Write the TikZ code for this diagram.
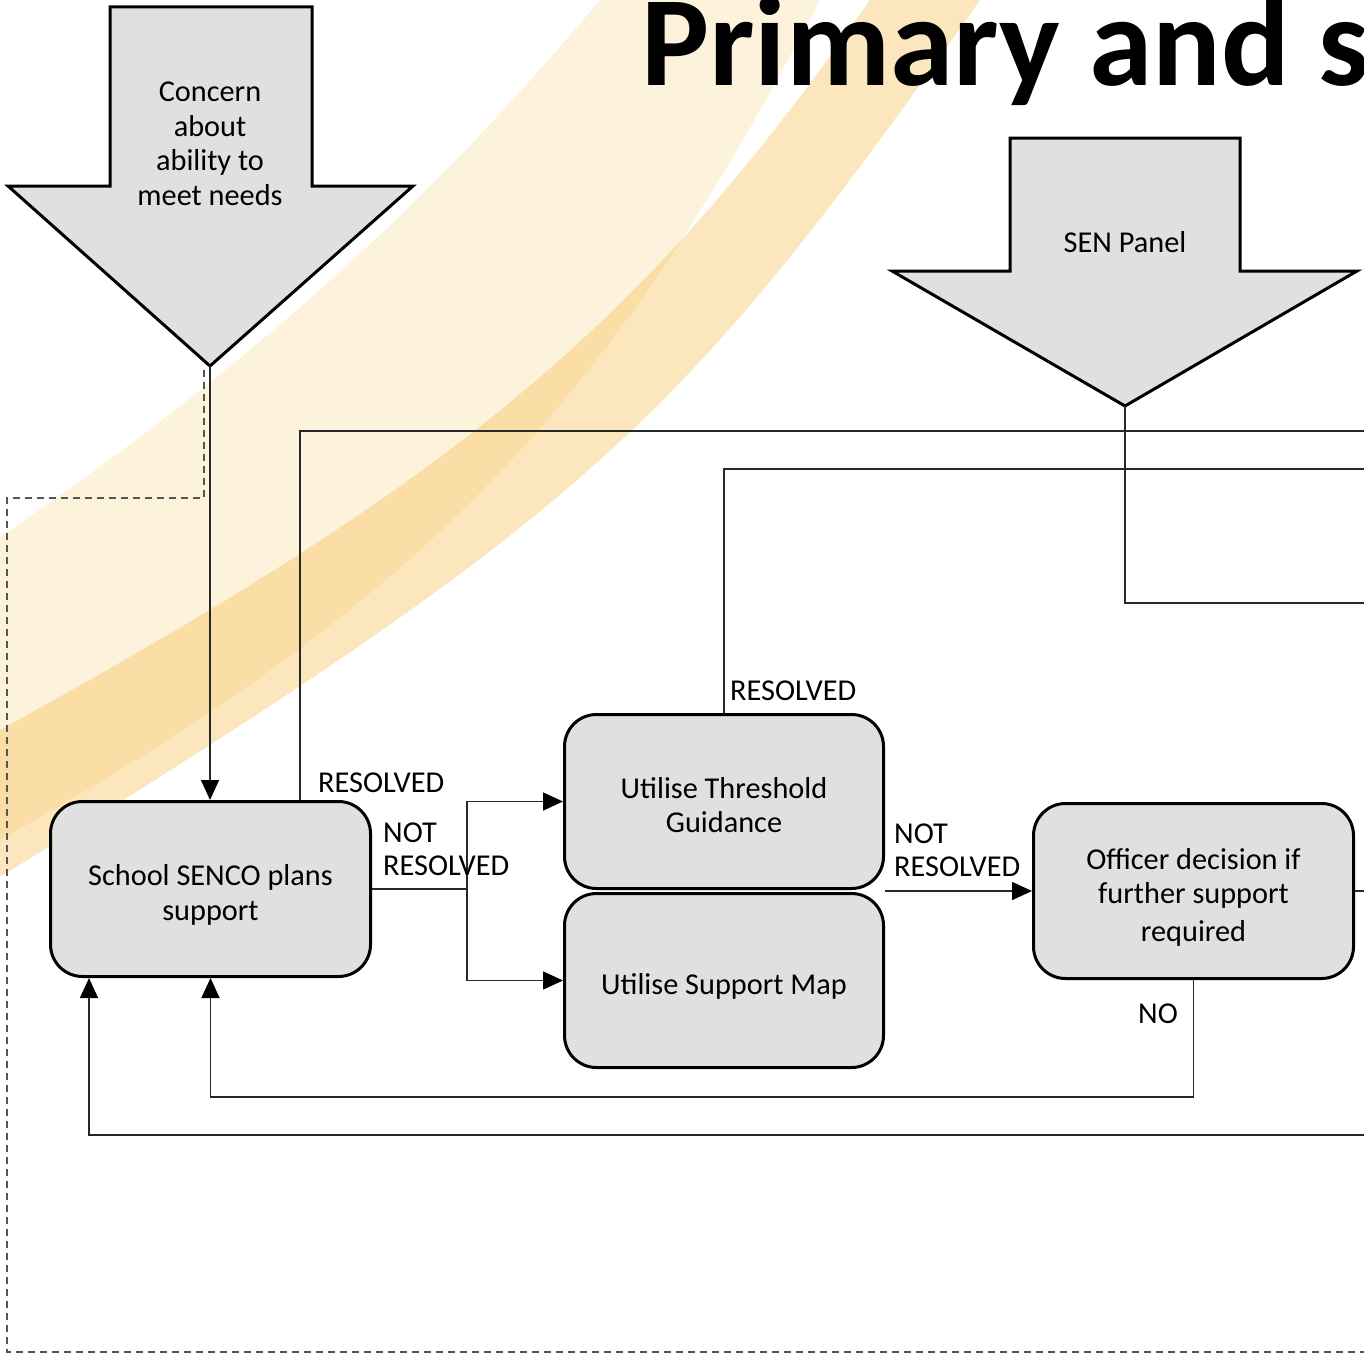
\documentclass[tikz,border=0pt]{standalone}
\usepackage{fontspec}
\setmainfont{Carlito}
\usetikzlibrary{arrows.meta,calc}
\definecolor{boxgray}{RGB}{224,224,224}
\definecolor{bandorange}{RGB}{245,178,50}
\definecolor{lineg}{RGB}{40,40,40}
\definecolor{dashg}{RGB}{85,85,85}
\newcommand{\toppad}{\rule{0pt}{33pt}}
\begin{document}
\begin{tikzpicture}[x=1pt,y=-1pt,
  flowbox/.style={draw=black, line width=3pt, fill=boxgray, rounded corners=32pt,
    minimum width=320pt, minimum height=175pt, align=center, inner sep=0pt,
    font=\fontsize{30.3}{34.5}\selectfont},
  bigarrow/.style={draw=black, line width=3pt, fill=boxgray, line join=miter},
  arrowtext/.style={align=center, inner sep=0pt, font=\fontsize{30.3}{34.5}\selectfont},
  conn/.style={draw=lineg, line width=1.5pt},
  arr/.style={conn, -{Triangle[length=20pt,width=18pt,color=black,fill=black]}},
  lbl/.style={font=\fontsize{30.3}{33}\selectfont, align=left, inner sep=0pt},
  dashedline/.style={draw=dashg, line width=2pt, dash pattern=on 7pt off 5pt}
]
\useasboundingbox (0,0) rectangle (1364,1354);

% decorative bands
\begin{scope}
\clip (0,0) rectangle (1364,1354);
\fill[bandorange, opacity=0.17]
  (640,-50) -- (600,0) .. controls (490,130) and (320,320) .. (0,537) -- (-80,590)
  -- (-80,885) -- (0,840) .. controls (450,588) and (620,380) .. (820,0) -- (860,-80) -- cycle;
\fill[bandorange, opacity=0.32]
  (920,-70) -- (870,0) .. controls (640,331) and (450,482) .. (0,730) -- (-80,774)
  -- (-80,927) -- (0,877) .. controls (591,511) and (682,423) .. (980,0) -- (1030,-71) -- cycle;
\end{scope}

% title
\node[anchor=base west, inner sep=0pt, font=\fontsize{128}{128}\selectfont\bfseries] (title) at (641,85) {Primary and s};

% right edge reference
\coordinate (E) at (1372,0);

% big arrows
\draw[bigarrow] (110,7) -- (312,7) -- (312,186) -- (413,186) -- (210,366) -- (8,186) -- (110,186) -- cycle;
\coordinate (a1tip) at (210,366);
\node[arrowtext] (concern) at (210,144) {Concern\\about\\ability to\\meet needs};

\draw[bigarrow] (1010,138) -- (1240,138) -- (1240,271) -- (1357,271) -- (1125,406) -- (892,271) -- (1010,271) -- cycle;
\coordinate (a2tip) at (1125,406);
\node[arrowtext] (panel) at (1125,242) {SEN Panel};

% boxes
\node[flowbox] (senco) at (210.5,889) {\toppad School SENCO plans\\support};
\node[flowbox, minimum height=174pt, minimum width=319pt] (thresh) at (724,801.5) {\rule{0pt}{28pt}Utilise Threshold\\Guidance};
\node[flowbox, minimum height=174pt, minimum width=319pt] (supmap) at (724,980.5) {\toppad Utilise Support Map};
\node[flowbox] (officer) at (1193.5,891) {\toppad Officer decision if\\further support\\[3pt]required};

% dashed route
\coordinate (d0) at (204,370);
\coordinate (d1) at (204,498);
\coordinate (d2) at (7,498);
\coordinate (d3) at (7,1352);
\draw[dashedline] (d0) -- (d1) -- (d2) -- (d3) -- (d3 -| E);

% connectors
\draw[arr] (a1tip) -- (a1tip |- senco.north);

\coordinate (r1) at (300,431);
\draw[conn] (r1 |- senco.north) -- (r1) -- (r1 -| E);
\node[lbl, anchor=west] (res1) at (318,783) {RESOLVED};

\coordinate (sx) at (467,0);
\draw[conn] (senco.east) -- (senco.east -| sx);
\draw[arr] (senco.east -| sx) |- (thresh.west);
\draw[arr] (senco.east -| sx) |- (supmap.west);
\node[lbl, anchor=west] (nr1) at (383,849.5) {NOT\\RESOLVED};

\coordinate (r2) at (724,469);
\draw[conn] (thresh.north) -- (r2) -- (r2 -| E);
\node[lbl, anchor=west] (res2) at (730,691) {RESOLVED};

\coordinate (j) at ($(thresh.south east)!0.5!(supmap.north east)$);
\draw[arr] (j) -- (j -| officer.west);
\node[lbl, anchor=west] (nr2) at (894,850.5) {NOT\\RESOLVED};

\draw[conn] (officer.east) -- (officer.east -| E);

\coordinate (noy) at (0,1097);
\draw[arr] (officer.south) -- (officer.south |- noy) -- (senco.south |- noy) -- (senco.south);
\node[lbl, anchor=east] (no) at (1178,1014) {NO};

\coordinate (b) at (89,1135);
\draw[arr] (b -| E) -- (b) -- (b |- senco.south);

\coordinate (p1) at (1125,603);
\draw[conn] (a2tip) -- (p1) -- (p1 -| E);
\end{tikzpicture}
\end{document}
